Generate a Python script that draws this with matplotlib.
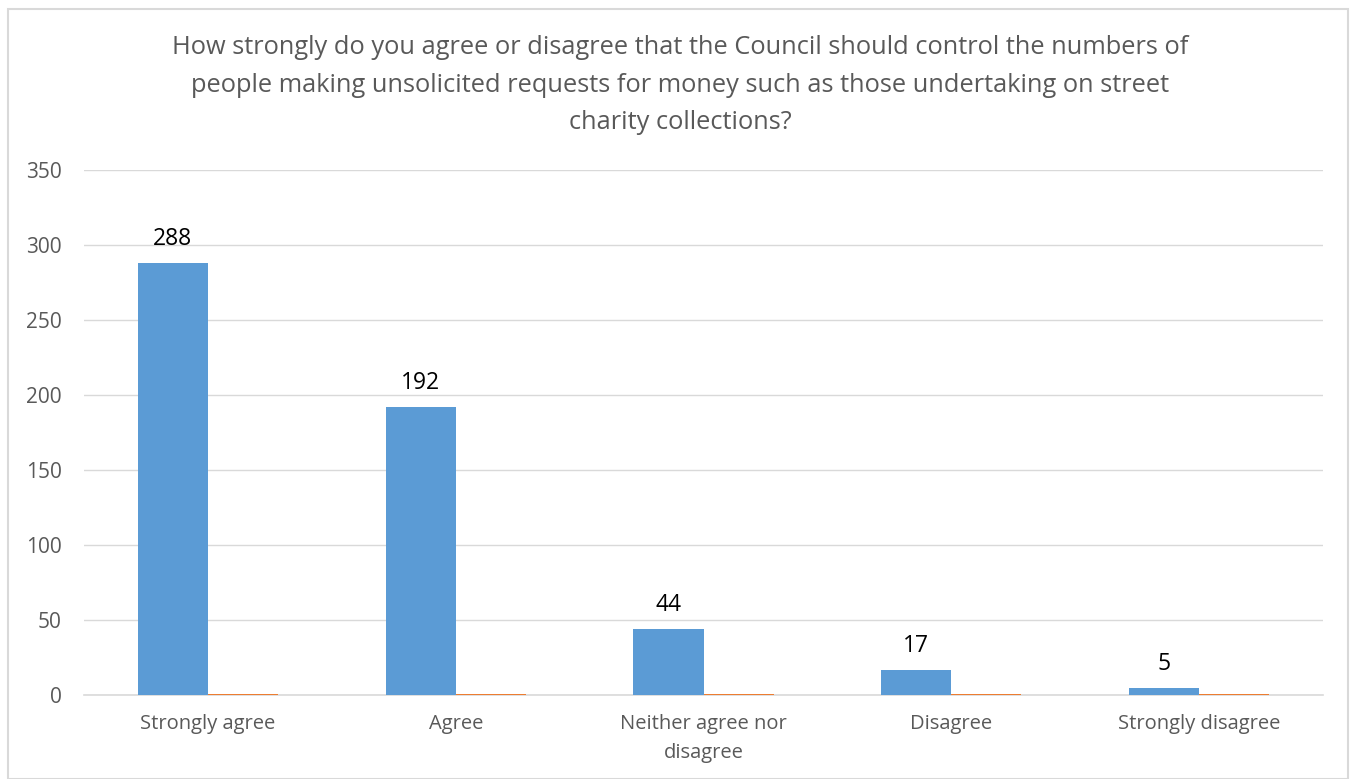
import matplotlib
matplotlib.use("Agg")
import matplotlib.pyplot as plt
import numpy as np
from matplotlib.patches import Rectangle

categories = ["Strongly agree", "Agree", "Neither agree nor\ndisagree", "Disagree", "Strongly disagree"]
series1 = [288, 192, 44, 17, 5]
series2 = [1, 1, 1, 1, 1]
yticks = [0, 50, 100, 150, 200, 250, 300, 350]
title = ("How strongly do you agree or disagree that the Council should control the numbers of\n"
         "people making unsolicited requests for money such as those undertaking on street\n"
         "charity collections?")

plt.rcParams['font.family'] = ['Open Sans', 'DejaVu Sans']

W, H = 1351, 779
fig = plt.figure(figsize=(W/100, H/100), dpi=100)
fig.patches.append(Rectangle((8/W, 0), (1348-8)/W, 1 - 9/H, transform=fig.transFigure,
                             fill=False, edgecolor="#d9d9d9", linewidth=1.5))

ax = fig.add_axes([84/W, 1 - 695/H, (1323-84)/W, (695-170)/H])
x = np.arange(len(categories))
bw = 0.283
ax.bar(x - bw/2, series1, width=bw, color="#5b9bd5", zorder=3)
ax.bar(x + bw/2, series2, width=bw, color="#ed7d31", zorder=3)
for xi, v in zip(x, series1):
    ax.text(xi - bw/2, v + 8, str(v), ha="center", va="bottom", fontsize=16.5, color="black")

ax.set_xlim(-0.5, len(categories) - 0.5)
ax.set_ylim(0, 350)
ax.set_yticks(yticks)
ax.set_yticklabels([str(t) for t in yticks], fontsize=15, color="#595959")
ax.set_xticks(x)
ax.set_xticklabels(categories, fontsize=14.5, color="#595959", linespacing=1.6)
ax.tick_params(axis="x", length=0, pad=14)
ax.tick_params(axis="y", length=0, pad=16)
ax.grid(axis="y", color="#d9d9d9", linewidth=1, zorder=0)
for s in ["top", "right", "left"]:
    ax.spines[s].set_visible(False)
ax.spines["bottom"].set_color("#d9d9d9")
ax.spines["bottom"].set_linewidth(1.2)

fig.text(680/W, 1 - 85/H, title, ha="center", va="center", fontsize=18.3, color="#595959",
         linespacing=1.68)

fig.savefig("out.png", dpi=100)
